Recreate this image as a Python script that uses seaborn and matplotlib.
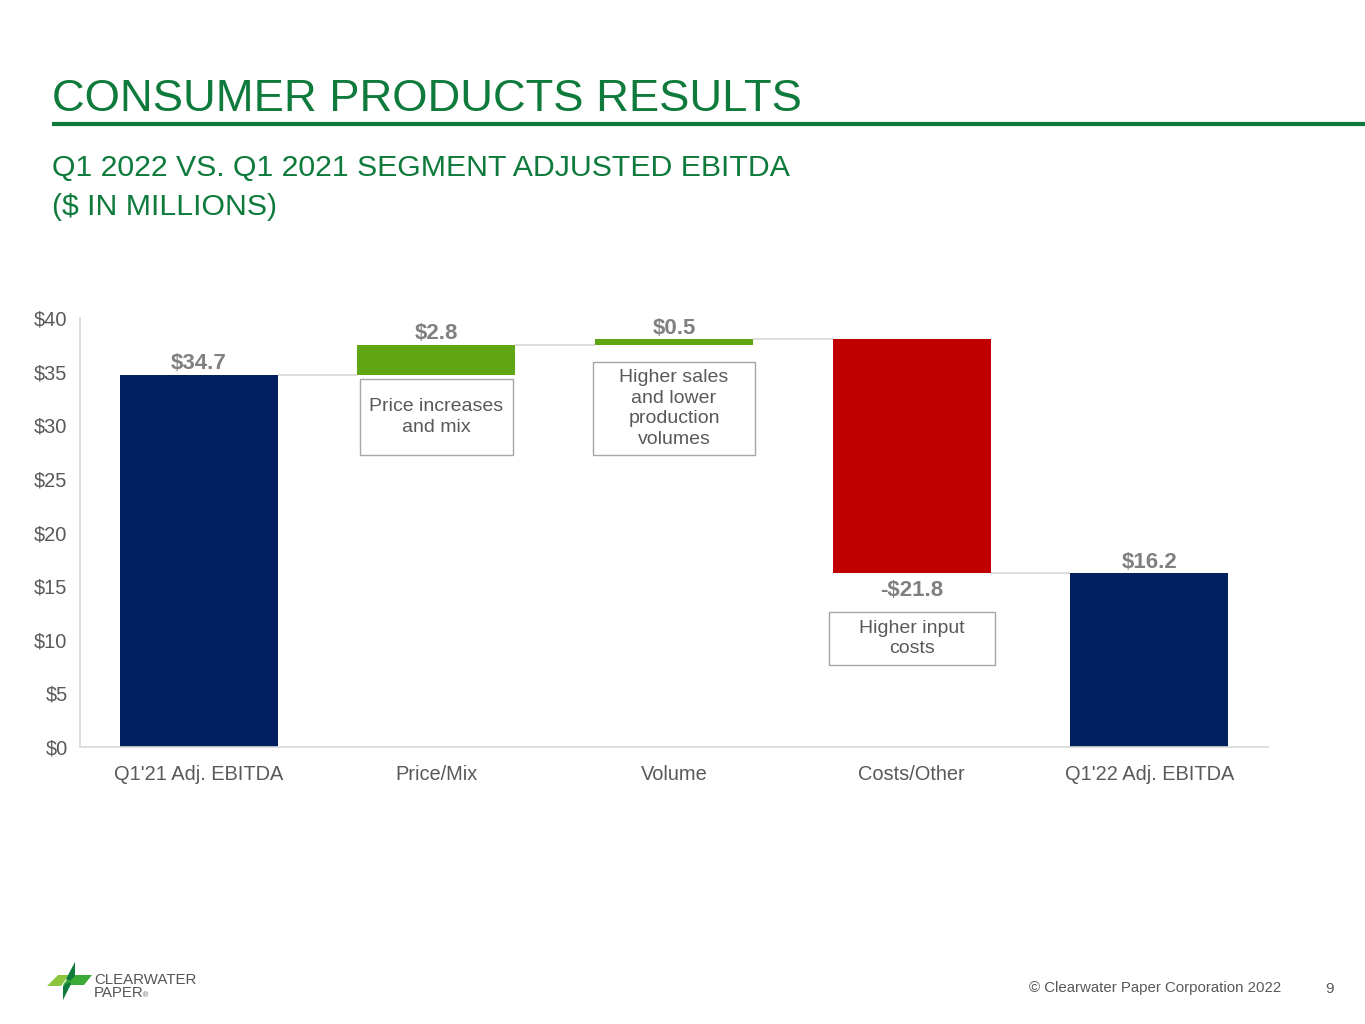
import numpy as np
import pandas as pd
import matplotlib
matplotlib.use("Agg")
import matplotlib.pyplot as plt
import seaborn as sns
from matplotlib.patches import Rectangle, Polygon

# ---------------- data ----------------
categories = ["Q1'21 Adj. EBITDA", "Price/Mix", "Volume", "Costs/Other", "Q1'22 Adj. EBITDA"]
changes = [34.7, 2.8, 0.5, -21.8, 16.2]
is_total = [True, False, False, False, True]
value_labels = ["$34.7", "$2.8", "$0.5", "-$21.8", "$16.2"]
notes = ["", "Price increases\nand mix", "Higher sales\nand lower\nproduction\nvolumes",
         "Higher input\ncosts", ""]
y_ticks = [0, 5, 10, 15, 20, 25, 30, 35, 40]
y_tick_labels = ["$0", "$5", "$10", "$15", "$20", "$25", "$30", "$35", "$40"]

# ---------------- styles ----------------
NAVY = "#002060"
GREEN = "#60A512"
RED = "#C00000"
TITLE_GREEN = "#0E7A3B"
GRID = "#D9D9D9"
TXT = "#595959"
VAL = "#808080"

# waterfall geometry
bottoms, heights, running = [], [], 0.0
for c, t in zip(changes, is_total):
    if t:
        bottoms.append(0.0); heights.append(c); running = c
    else:
        bottoms.append(running); heights.append(c); running += c
tops = [b + h for b, h in zip(bottoms, heights)]
colors = [NAVY if t else (GREEN if c >= 0 else RED) for c, t in zip(changes, is_total)]

df = pd.DataFrame({"category": categories, "height": heights, "bottom": bottoms})

sns.set_theme(style="white")
plt.rcParams["font.family"] = ["Liberation Sans", "DejaVu Sans"]

fig = plt.figure(figsize=(13.65, 10.24), dpi=100)
ax = fig.add_axes([80 / 1365, 1 - 747 / 1024, 1188 / 1365, 429 / 1024])

BW = 0.665
sns.barplot(data=df, x="category", y="height", order=categories, bottom=df["bottom"].values,
            width=BW, color=NAVY, saturation=1, errorbar=None, linewidth=0,
            edgecolor="none", ax=ax, zorder=2)
for p, col in zip(ax.patches, colors):
    p.set_facecolor(col)

# connectors
for i in range(len(categories) - 1):
    ax.hlines(tops[i], i + BW / 2, i + 1 - BW / 2, color=GRID, lw=1.3, zorder=1)

# value labels
for i, (lab, c) in enumerate(zip(value_labels, changes)):
    if c >= 0:
        ax.annotate(lab, (i, max(bottoms[i], tops[i])), xytext=(0, 4), textcoords="offset points",
                    ha="center", va="baseline", fontsize=16, fontweight="bold", color=VAL)
    else:
        ax.annotate(lab, (i, min(bottoms[i], tops[i])), xytext=(0, -5), textcoords="offset points",
                    ha="center", va="top", fontsize=16, fontweight="bold", color=VAL)

# note boxes (layout: width in category units, y-range in data units)
note_layout = {1: (0.644, 27.23, 34.31), 2: (0.682, 27.23, 35.9), 3: (0.699, 7.65, 12.59)}
for i, (w, y0, y1) in note_layout.items():
    ax.add_patch(Rectangle((i - w / 2, y0), w, y1 - y0, facecolor="white",
                           edgecolor="#A6A6A6", lw=1.0, zorder=3))
    ax.text(i, (y0 + y1) / 2, notes[i], ha="center", va="center", fontsize=14,
            color=TXT, linespacing=1.3, zorder=4)

ax.set_xlim(-0.5, 4.5)
ax.set_ylim(0, 40)
ax.set_yticks(y_ticks)
ax.set_yticklabels(y_tick_labels)
ax.set_xlabel("")
ax.set_ylabel("")
ax.tick_params(axis="both", length=0, labelsize=14.4, labelcolor=TXT)
ax.tick_params(axis="x", pad=13)
ax.tick_params(axis="y", pad=9)
for s in ["top", "right"]:
    ax.spines[s].set_visible(False)
for s in ["left", "bottom"]:
    ax.spines[s].set_color(GRID)
    ax.spines[s].set_linewidth(1.2)
ax.grid(False)

# ---------------- overlay (pixel coordinates) ----------------
ov = fig.add_axes([0, 0, 1, 1], zorder=10)
ov.set_xlim(0, 1365)
ov.set_ylim(1024, 0)
ov.axis("off")
ov.patch.set_alpha(0)

ov.text(52, 111, "CONSUMER PRODUCTS RESULTS", fontsize=32.7, color=TITLE_GREEN,
        ha="left", va="baseline")
ov.plot([52, 1365], [124, 124], color=TITLE_GREEN, lw=3, solid_capstyle="butt")
ov.text(52, 176, "Q1 2022 VS. Q1 2021 SEGMENT ADJUSTED EBITDA", fontsize=21.8,
        color=TITLE_GREEN, ha="left", va="baseline")
ov.text(52, 215, "($ IN MILLIONS)", fontsize=21.8, color=TITLE_GREEN, ha="left", va="baseline")

# footer
ov.text(1281, 992, "\u00a9 Clearwater Paper Corporation 2022", fontsize=10.8, color=TXT,
        ha="right", va="baseline")
ov.text(1330, 993, "9", fontsize=10.8, color=TXT, ha="center", va="baseline")

# logo
ov.add_patch(Polygon([(47, 986), (58, 975), (69, 975), (61, 986)], closed=True,
                     facecolor="#8CC63F", edgecolor="none"))
ov.add_patch(Polygon([(70, 975), (92, 975), (84, 985), (63, 985)], closed=True,
                     facecolor="#3AA935", edgecolor="none"))
ov.add_patch(Polygon([(66, 979), (75, 962), (75, 976), (70, 981)], closed=True,
                     facecolor="#0E7A3B", edgecolor="none"))
ov.add_patch(Polygon([(63, 1000), (63, 986), (69, 982), (71, 984)], closed=True,
                     facecolor="#0E7A3B", edgecolor="none"))
ov.text(94, 984, "CLEARWATER", fontsize=10.8, color="#555555", ha="left", va="baseline")
ov.text(94, 997, "PAPER", fontsize=10.8, color="#555555", ha="left", va="baseline")
ov.text(143, 997, "\u00ae", fontsize=5, color="#555555", ha="left", va="baseline")

fig.savefig("out.png", dpi=100, facecolor="white")
